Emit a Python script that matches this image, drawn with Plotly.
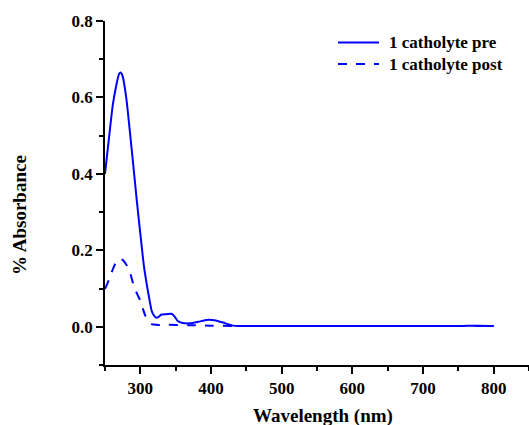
import plotly.graph_objects as go

wl_pre = [250, 256, 261, 266, 270, 272, 275, 280, 288, 295, 300, 305, 309, 313, 316, 319, 322, 326, 330, 337, 344, 348, 353, 360, 370, 382, 394, 405, 417, 425, 431, 440, 460, 500, 550, 600, 650, 700, 750, 780, 800]
abs_pre = [0.40, 0.50, 0.58, 0.632, 0.662, 0.665, 0.655, 0.60, 0.46, 0.33, 0.244, 0.16, 0.112, 0.07, 0.042, 0.03, 0.024, 0.026, 0.032, 0.033, 0.034, 0.028, 0.015, 0.010, 0.009, 0.013, 0.018, 0.017, 0.011, 0.006, 0.003, 0.002, 0.002, 0.002, 0.002, 0.002, 0.002, 0.002, 0.002, 0.003, 0.002]

wl_post = [250, 256, 262, 266, 270, 275, 281, 286, 290, 295, 300, 304, 307, 311, 316, 322, 340, 370, 400, 430, 460, 500, 600, 700, 800]
abs_post = [0.099, 0.125, 0.155, 0.170, 0.178, 0.175, 0.160, 0.138, 0.112, 0.088, 0.068, 0.045, 0.029, 0.015, 0.007, 0.005, 0.005, 0.004, 0.003, 0.002, 0.002, 0.002, 0.002, 0.002, 0.002]

names = ["1 catholyte pre", "1 catholyte post"]
dashes = ["solid", "dash"]
x_title = "Wavelength (nm)"
y_title = "% Absorbance"

font_family = "Liberation Serif"
fig = go.Figure()
for wl, ab, nm, ds in [(wl_pre, abs_pre, names[0], dashes[0]), (wl_post, abs_post, names[1], dashes[1])]:
    fig.add_trace(go.Scatter(x=wl, y=ab, mode="lines", name=nm, showlegend=False,
                             line=dict(color="#0000ff", width=2, dash=ds, shape="spline", smoothing=0.6)))

# manual legend (paper coordinates)
W, H, L, T, B = 529, 425, 105, 21, 60
pw, ph = W - L, H - T - B
def px_x(x):
    return (x - L) / pw
def px_y(y):
    return (H - B - y) / ph

shapes = []
annotations = []
for i, (nm, ds) in enumerate(zip(names, dashes)):
    yy = 42.5 + i * 21.5
    shapes.append(dict(type="line", xref="paper", yref="paper",
                       x0=px_x(338), x1=px_x(379), y0=px_y(yy), y1=px_y(yy),
                       line=dict(color="#0000ff", width=2, dash=ds)))
    annotations.append(dict(text=nm, xref="paper", yref="paper", x=px_x(387), y=px_y(yy),
                            xanchor="left", yanchor="middle", showarrow=False,
                            font=dict(family=font_family, size=17, color="black", weight="bold")))
annotations.append(dict(text=x_title, xref="paper", yref="paper", x=0.513, y=-0.148,
                        xanchor="center", yanchor="middle", showarrow=False,
                        font=dict(family=font_family, size=19, color="black", weight="bold")))
annotations.append(dict(text=y_title, xref="paper", yref="paper", x=-0.203, y=0.436,
                        xanchor="center", yanchor="middle", showarrow=False, textangle=-90,
                        font=dict(family=font_family, size=19, color="black", weight="bold")))

fig.update_layout(
    width=W, height=H,
    margin=dict(l=L, r=0, t=T, b=B),
    paper_bgcolor="white", plot_bgcolor="white",
    font=dict(family=font_family, color="black"),
    showlegend=False,
    shapes=shapes,
    annotations=annotations,
)
fig.update_xaxes(range=[250, 850], tickvals=[300, 400, 500, 600, 700, 800],
                 showline=True, linecolor="black", linewidth=1.5,
                 ticks="outside", ticklen=7, tickwidth=1.5, tickcolor="black",
                 minor=dict(ticks="outside", ticklen=4, tickwidth=1.5, tickcolor="black", dtick=50, tick0=250, showgrid=False),
                 showgrid=False, zeroline=False,
                 tickfont=dict(family=font_family, size=17, color="black", weight="bold"))
fig.update_yaxes(range=[-0.1, 0.8], tickvals=[0.0, 0.2, 0.4, 0.6, 0.8], ticktext=["0.0", "0.2", "0.4", "0.6", "0.8"],
                 showline=True, linecolor="black", linewidth=1.5,
                 ticks="outside", ticklen=7, tickwidth=1.5, tickcolor="black",
                 minor=dict(ticks="outside", ticklen=4, tickwidth=1.5, tickcolor="black", dtick=0.1, tick0=0, showgrid=False),
                 showgrid=False, zeroline=False,
                 tickfont=dict(family=font_family, size=17, color="black", weight="bold"))

fig.write_html("out.html")
